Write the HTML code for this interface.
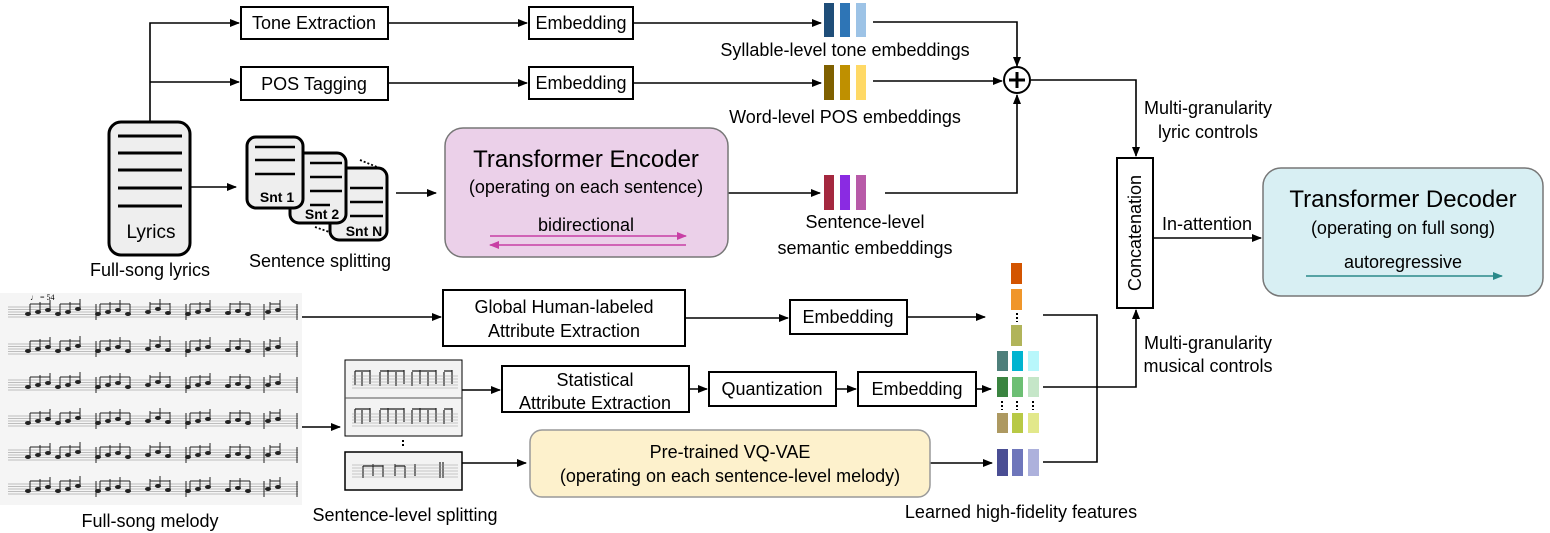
<!DOCTYPE html>
<html><head><meta charset="utf-8"><style>
body{margin:0;background:#fff}
svg{display:block;font-family:"Liberation Sans",sans-serif}
</style></head><body>
<svg width="1550" height="533" viewBox="0 0 1550 533" xmlns="http://www.w3.org/2000/svg">
<defs>
<marker id="a" markerWidth="10" markerHeight="8" refX="9" refY="4" orient="auto" markerUnits="userSpaceOnUse"><path d="M0,0 L10,4 L0,8 z" fill="#000"/></marker>
<marker id="m" markerWidth="10" markerHeight="8" refX="9" refY="4" orient="auto" markerUnits="userSpaceOnUse"><path d="M0,0 L10,4 L0,8 z" fill="#c83fa5"/></marker>
<marker id="t" markerWidth="10" markerHeight="8" refX="9" refY="4" orient="auto" markerUnits="userSpaceOnUse"><path d="M0,0 L10,4 L0,8 z" fill="#2a8a8a"/></marker>
<g id="staff" stroke="#aaa" stroke-width="0.7"><line x1="8" y1="-5" x2="298" y2="-5"/><line x1="8" y1="-2.5" x2="298" y2="-2.5"/><line x1="8" y1="0" x2="298" y2="0"/><line x1="8" y1="2.5" x2="298" y2="2.5"/><line x1="8" y1="5" x2="298" y2="5"/></g>
<g id="notes" fill="#222" stroke="#222" stroke-width="1"><path d="M30,2v-10M40,0v-10M50,-2v-10M60,2v-10M70,0v-10M80,-3v-10M100,2v-10M110,0v-10M120,-2v-10M130,2v-10M150,0v-10M160,-3v-10M170,1v-10M190,2v-10M200,0v-10M210,-2v-10M230,1v-10M240,-1v-10M250,2v-10M270,0v-10M280,-2v-10M30,-8h20M60,-8h20M100,-8h30M150,-8h20M190,-8h20M230,-8h20M270,-8h10M96,-8v16M186,-8v16M264,-8v16M297,-8v16"/>
<g stroke="none"><ellipse cx="28" cy="2" rx="3" ry="2"/><ellipse cx="38" cy="0" rx="3" ry="2"/><ellipse cx="48" cy="-2" rx="3" ry="2"/><ellipse cx="58" cy="2" rx="3" ry="2"/><ellipse cx="68" cy="0" rx="3" ry="2"/><ellipse cx="78" cy="-3" rx="3" ry="2"/><ellipse cx="98" cy="2" rx="3" ry="2"/><ellipse cx="108" cy="0" rx="3" ry="2"/><ellipse cx="118" cy="-2" rx="3" ry="2"/><ellipse cx="128" cy="2" rx="3" ry="2"/><ellipse cx="148" cy="0" rx="3" ry="2"/><ellipse cx="158" cy="-3" rx="3" ry="2"/><ellipse cx="168" cy="1" rx="3" ry="2"/><ellipse cx="188" cy="2" rx="3" ry="2"/><ellipse cx="198" cy="0" rx="3" ry="2"/><ellipse cx="208" cy="-2" rx="3" ry="2"/><ellipse cx="228" cy="1" rx="3" ry="2"/><ellipse cx="238" cy="-1" rx="3" ry="2"/><ellipse cx="248" cy="2" rx="3" ry="2"/><ellipse cx="268" cy="0" rx="3" ry="2"/><ellipse cx="278" cy="-2" rx="3" ry="2"/></g></g>
</defs>
<g font-size="18" text-anchor="middle" fill="#000">
<g fill="#fff" stroke="#000" stroke-width="2">
<rect x="241" y="7" width="147" height="32"/>
<rect x="241" y="67" width="147" height="33"/>
<rect x="529" y="7" width="104" height="32"/>
<rect x="529" y="67" width="104" height="32"/>
<rect x="443" y="290" width="242" height="56"/>
<rect x="790" y="300" width="117" height="34"/>
<rect x="502" y="366" width="187" height="46"/>
<rect x="709" y="372" width="127" height="34"/>
<rect x="858" y="372" width="118" height="34"/>
<rect x="1117" y="158" width="36" height="150"/>
</g>
<text x="314" y="29">Tone Extraction</text>
<text x="314" y="90">POS Tagging</text>
<text x="581" y="29">Embedding</text>
<text x="581" y="89">Embedding</text>
<text x="564" y="313">Global Human-labeled</text>
<text x="564" y="337">Attribute Extraction</text>
<text x="848" y="323">Embedding</text>
<text x="595" y="386">Statistical</text>
<text x="595" y="409">Attribute Extraction</text>
<text x="772" y="395">Quantization</text>
<text x="917" y="395">Embedding</text>
<text transform="translate(1141,233) rotate(-90)">Concatenation</text>

<g stroke="#000" stroke-width="1.6" fill="none">
<path d="M150,122 V23 H239" marker-end="url(#a)"/>
<path d="M150,82 H239" marker-end="url(#a)"/>
<path d="M388,23 H527" marker-end="url(#a)"/>
<path d="M388,83 H527" marker-end="url(#a)"/>
<path d="M633,23 H821" marker-end="url(#a)"/>
<path d="M633,83 H821" marker-end="url(#a)"/>
<path d="M873,22 H1017 V66" marker-end="url(#a)"/>
<path d="M873,81 H1002" marker-end="url(#a)"/>
<path d="M885,193 H1017 V95" marker-end="url(#a)"/>
<path d="M1031,80 H1136 V156" marker-end="url(#a)"/>
<path d="M190,187 H236" marker-end="url(#a)"/>
<path d="M396,193 H436" marker-end="url(#a)"/>
<path d="M728,193 H820" marker-end="url(#a)"/>
<path d="M1153,238 H1261" marker-end="url(#a)"/>
<path d="M300,317 H441" marker-end="url(#a)"/>
<path d="M685,318 H788" marker-end="url(#a)"/>
<path d="M907,317 H985" marker-end="url(#a)"/>
<path d="M300,427 H340" marker-end="url(#a)"/>
<path d="M462,390 H500" marker-end="url(#a)"/>
<path d="M689,389 H707" marker-end="url(#a)"/>
<path d="M836,389 H856" marker-end="url(#a)"/>
<path d="M976,389 H991" marker-end="url(#a)"/>
<path d="M462,463 H526" marker-end="url(#a)"/>
<path d="M930,463 H992" marker-end="url(#a)"/>
<path d="M1043,315 H1097 V462 H1043"/>
<path d="M1043,387 H1136 V310" marker-end="url(#a)"/>
</g>
<circle cx="1017" cy="80" r="13" fill="#fff" stroke="#000" stroke-width="2"/>
<path d="M1009,80 H1025 M1017,72 V88" stroke="#000" stroke-width="3"/>

<rect x="824" y="3" width="10" height="34" fill="#1f4e79"/><rect x="840" y="3" width="10" height="34" fill="#2e75b6"/><rect x="856" y="3" width="10" height="34" fill="#9dc3e6"/>
<rect x="824" y="65" width="10" height="35" fill="#7f6000"/><rect x="840" y="65" width="10" height="35" fill="#bf9000"/><rect x="856" y="65" width="10" height="35" fill="#ffd966"/>
<rect x="824" y="175" width="10" height="35" fill="#a4283f"/><rect x="840" y="175" width="10" height="35" fill="#8a2be2"/><rect x="856" y="175" width="10" height="35" fill="#b85aa8"/>
<rect x="1011" y="263" width="11" height="21" fill="#d35400"/><rect x="1011" y="289" width="11" height="21" fill="#f0962a"/><rect x="1011" y="325" width="11" height="21" fill="#b1b45a"/>
<rect x="997" y="351" width="11" height="20" fill="#4e7f7a"/><rect x="1012" y="351" width="11" height="20" fill="#00b4d0"/><rect x="1028" y="351" width="11" height="20" fill="#b8f7fb"/>
<rect x="997" y="377" width="11" height="20" fill="#3a8440"/><rect x="1012" y="377" width="11" height="20" fill="#6dbf74"/><rect x="1028" y="377" width="11" height="20" fill="#c5e6c8"/>
<rect x="997" y="413" width="11" height="20" fill="#ad9961"/><rect x="1012" y="413" width="11" height="20" fill="#b8c945"/><rect x="1028" y="413" width="11" height="20" fill="#e2e88b"/>
<rect x="997" y="449" width="11" height="27" fill="#4a4e94"/><rect x="1012" y="449" width="11" height="27" fill="#6e76bb"/><rect x="1028" y="449" width="11" height="27" fill="#adb1dc"/>
<g stroke="#000" stroke-width="2" stroke-dasharray="2,2"><path d="M1017,313V322M1002,401V410M1017,401V410M1033,401V410M403,440V448"/></g>

<text x="845" y="56">Syllable-level tone embeddings</text>
<text x="845" y="123">Word-level POS embeddings</text>
<text x="865" y="228">Sentence-level</text>
<text x="865" y="254">semantic embeddings</text>
<text x="1208" y="114">Multi-granularity</text>
<text x="1208" y="138">lyric controls</text>
<text x="1208" y="349">Multi-granularity</text>
<text x="1208" y="372">musical controls</text>
<text x="1207" y="230">In-attention</text>
<text x="150" y="276">Full-song lyrics</text>
<text x="320" y="267">Sentence splitting</text>
<text x="150" y="527">Full-song melody</text>
<text x="405" y="521">Sentence-level splitting</text>
<text x="1021" y="518">Learned high-fidelity features</text>

<rect x="445" y="128" width="283" height="129" rx="18" fill="#ebd0e9" stroke="#777" stroke-width="1.5"/>
<text x="586" y="167" font-size="24">Transformer Encoder</text>
<text x="586" y="193">(operating on each sentence)</text>
<text x="586" y="231">bidirectional</text>
<path d="M490,236 H686" stroke="#c83fa5" stroke-width="1.5" marker-end="url(#m)"/>
<path d="M686,245 H490" stroke="#c83fa5" stroke-width="1.5" marker-end="url(#m)"/>

<rect x="1263" y="168" width="280" height="128" rx="18" fill="#d8eff3" stroke="#777" stroke-width="1.5"/>
<text x="1403" y="207" font-size="24">Transformer Decoder</text>
<text x="1403" y="234">(operating on full song)</text>
<text x="1403" y="268">autoregressive</text>
<path d="M1306,276 H1502" stroke="#2a8a8a" stroke-width="1.5" marker-end="url(#t)"/>

<rect x="530" y="430" width="400" height="67" rx="12" fill="#fdf1cc" stroke="#999" stroke-width="1.5"/>
<text x="730" y="458">Pre-trained VQ-VAE</text>
<text x="730" y="482">(operating on each sentence-level melody)</text>

<rect x="109" y="122" width="81" height="133" rx="12" fill="#eee" stroke="#000" stroke-width="3"/>
<g stroke="#000" stroke-width="3"><path d="M118,136H182M118,153H182M118,170H182M118,188H182M118,206H182"/></g>
<text x="151" y="238" font-size="19">Lyrics</text>
<g stroke="#000" stroke-width="1.8" stroke-dasharray="2,2"><path d="M360,160L377,167M315,227L335,234"/></g>
<rect x="330" y="168" width="57" height="72" rx="9" fill="#eee" stroke="#000" stroke-width="3"/>
<g stroke="#000" stroke-width="2.5"><path d="M350,188H383M350,202H383M350,216H383"/></g>
<text x="364" y="236" font-size="14" font-weight="bold">Snt N</text>
<rect x="290" y="153" width="56" height="70" rx="9" fill="#eee" stroke="#000" stroke-width="3"/>
<g stroke="#000" stroke-width="2.5"><path d="M310,163H342M310,177H342M310,191H342M310,205H330"/></g>
<text x="322" y="219" font-size="14" font-weight="bold">Snt 2</text>
<rect x="247" y="137" width="56" height="71" rx="9" fill="#eee" stroke="#000" stroke-width="3"/>
<g stroke="#000" stroke-width="2.5"><path d="M255,147H295M255,160H295M255,174H295"/></g>
<text x="277" y="202" font-size="14" font-weight="bold">Snt 1</text>
</g>

<rect x="0" y="293" width="302" height="212" fill="#f5f5f5"/>
<g transform="translate(0,312)"><use href="#staff"/><use href="#notes"/></g>
<g transform="translate(0,349)"><use href="#staff"/><use href="#notes"/></g>
<g transform="translate(0,385)"><use href="#staff"/><use href="#notes"/></g>
<g transform="translate(0,421)"><use href="#staff"/><use href="#notes"/></g>
<g transform="translate(0,455)"><use href="#staff"/><use href="#notes"/></g>
<g transform="translate(0,489)"><use href="#staff"/><use href="#notes"/></g>
<text x="30" y="300" font-size="8" font-family="Liberation Serif">♩ = 54</text>

<rect x="345" y="360" width="117" height="76" fill="#f3f3f3" stroke="#000" stroke-width="1"/>
<line x1="345" y1="398" x2="462" y2="398" stroke="#555"/>
<rect x="345" y="452" width="117" height="38" fill="#f3f3f3" stroke="#000" stroke-width="1.5"/>
<g fill="none" stroke="#222" stroke-width="1.2">
<path d="M355,385v-14M362,386v-14M370,384v-14M380,386v-14M388,384v-14M396,386v-14M404,384v-14M412,386v-14M420,384v-14M428,386v-14M436,384v-14M444,386v-14M452,384v-14M355,371h15M380,371h24M412,371h24M444,371h8"/>
<path d="M355,423v-14M362,424v-14M370,422v-14M380,424v-14M388,422v-14M396,424v-14M404,422v-14M412,424v-14M420,422v-14M428,424v-14M436,422v-14M444,424v-14M452,422v-14M355,409h15M380,409h24M412,409h24M444,409h8"/>
<path d="M363,478v-12M373,476v-12M383,477v-12M395,476v-12M405,478v-12M415,476v-12M440,478v-16M443,478v-16M363,466h20M395,466h10"/>
</g>
<g stroke="#999" stroke-width="0.6"><path d="M352,376H458M352,379H458M352,382H458M352,385H458M352,388H458M352,414H458M352,417H458M352,420H458M352,423H458M352,426H458M352,465H458M352,468H458M352,471H458M352,474H458M352,477H458"/></g>
</svg>
</body></html>
